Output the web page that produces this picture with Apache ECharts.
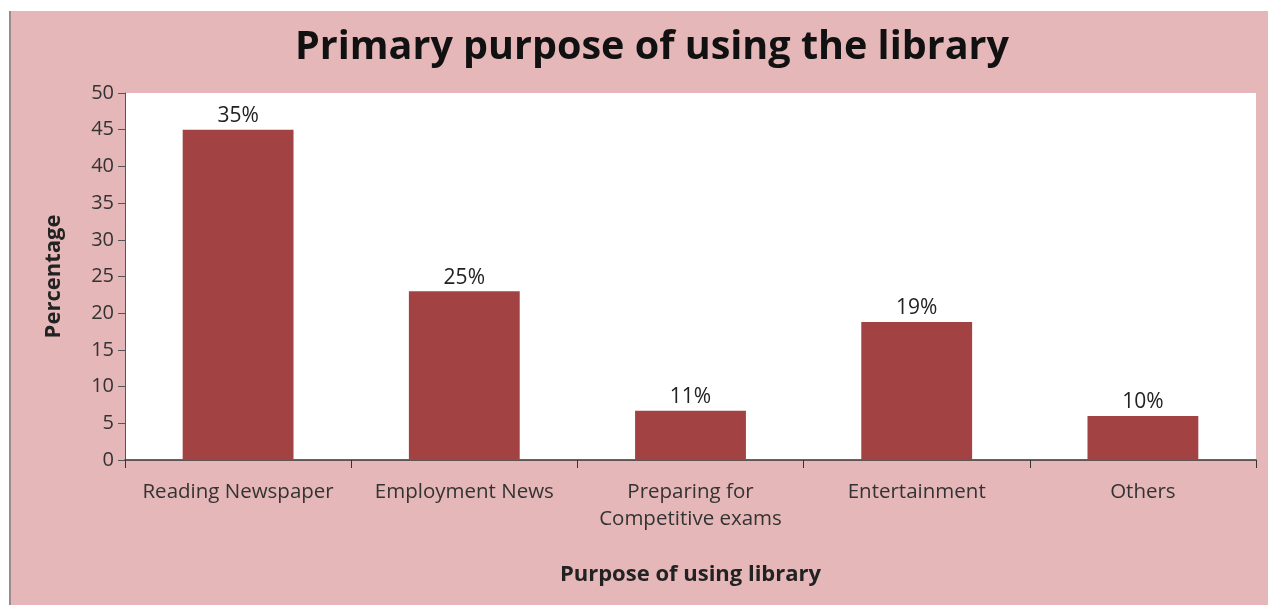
<!DOCTYPE html>
<html>
<head>
<meta charset="utf-8">
<script src="https://cdn.jsdelivr.net/npm/echarts@6/dist/echarts.min.js"></script>
<style>
html,body{margin:0;padding:0;background:#fff;width:1268px;height:605px;overflow:hidden;}
#wrap{position:absolute;left:9px;top:11px;width:1259px;height:594px;background:#E5B7B8;border-left:2px solid #9a8a8a;box-sizing:border-box;}
#chart{position:absolute;left:0;top:0;width:1257px;height:594px;}
</style>
</head>
<body>
<div id="wrap"><div id="chart"></div></div>
<script>
const categories = ['Reading Newspaper', 'Employment News', 'Preparing for\nCompetitive exams', 'Entertainment', 'Others'];
const barValues = [45, 23, 6.7, 18.8, 6];
const barLabels = ['35%', '25%', '11%', '19%', '10%'];
const yTicks = [0, 5, 10, 15, 20, 25, 30, 35, 40, 45, 50];

const chart = echarts.init(document.getElementById('chart'));
const font = '"Open Sans", "Noto Sans", sans-serif';
chart.setOption({
  animation: false,
  backgroundColor: 'transparent',
  textStyle: {fontFamily: font},
  title: {
    text: 'Primary purpose of using the library',
    left: 279,
    top: 12,
    textStyle: {fontFamily: font, fontSize: 39.5, fontWeight: 'bold', color: '#111'}
  },
  grid: {left: 114, top: 82, right: 12, bottom: 145, show: true, backgroundColor: '#ffffff', borderWidth: 0},
  xAxis: {
    type: 'category',
    data: categories,
    name: 'Purpose of using library',
    nameLocation: 'middle',
    nameGap: 104,
    nameTextStyle: {fontFamily: font, fontSize: 22, fontWeight: 'bold', color: '#222'},
    axisLine: {lineStyle: {color: '#333', width: 1.5}},
    axisTick: {show: true, length: 8, alignWithLabel: false, lineStyle: {color: '#333'}},
    axisLabel: {fontFamily: font, fontSize: 20.5, color: '#333', margin: 19, interval: 0, lineHeight: 27}
  },
  yAxis: {
    type: 'value',
    min: 0, max: 50, interval: 5,
    name: 'Percentage',
    nameLocation: 'middle',
    nameGap: 60,
    nameRotate: 90,
    nameTextStyle: {fontFamily: font, fontSize: 22, fontWeight: 'bold', color: '#222'},
    axisLine: {show: true, lineStyle: {color: '#555', width: 1}},
    axisTick: {show: true, length: 7, lineStyle: {color: '#555'}},
    splitLine: {show: false},
    axisLabel: {fontFamily: font, fontSize: 20, color: '#333', margin: 11,
      formatter: v => yTicks.includes(v) ? String(v) : ''}
  },
  series: [{
    type: 'bar',
    data: barValues.map((v, i) => ({value: v, label: {formatter: barLabels[i]}})),
    barWidth: '49%',
    itemStyle: {color: '#A24243'},
    label: {show: true, position: 'top', distance: 3, fontFamily: font, fontSize: 21, color: '#222'}
  }]
});
</script>
</body>
</html>
